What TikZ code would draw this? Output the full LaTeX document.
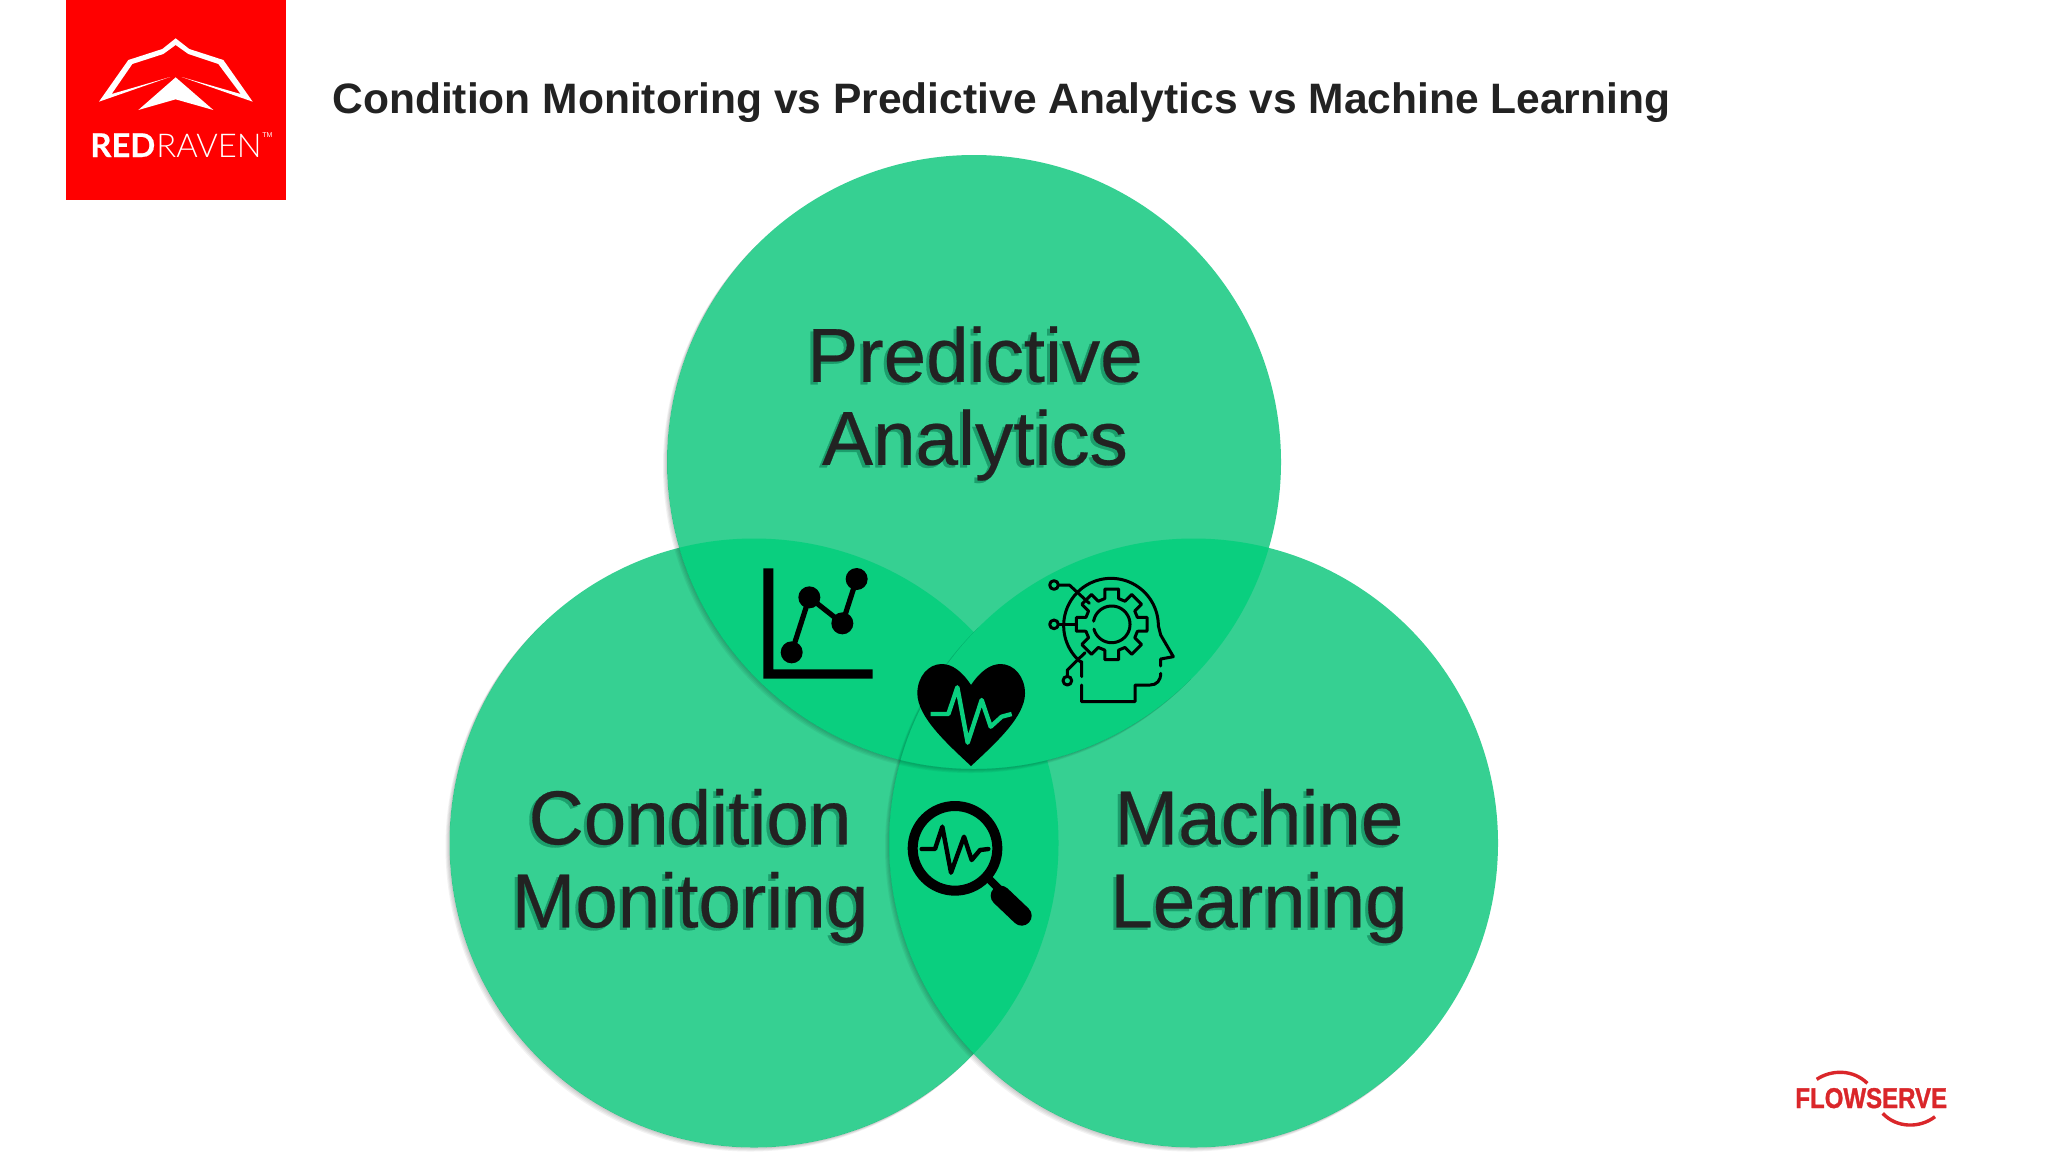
\documentclass[tikz,border=0pt]{standalone}
\usepackage{fontspec}
\setmainfont{Liberation Sans}
\newfontfamily\logofont{Lato Light}
\newfontfamily\logoboldfont[FakeBold=0.6]{Lato Bold}
\newfontfamily\flowfont[FakeBold=1.2]{Liberation Sans Bold}
\newfontfamily\vennfont[FakeBold=0.35]{Liberation Sans}
\definecolor{vennone}{RGB}{54,208,146}
\definecolor{venntwo}{RGB}{10,207,127}
\definecolor{ink}{RGB}{34,34,34}
\definecolor{inkshadow}{RGB}{28,158,108}
\definecolor{redraven}{RGB}{255,0,0}
\definecolor{flowred}{RGB}{218,38,42}
\tikzset{
  vennlabel/.style={align=center,text=ink,font=\vennfont\fontsize{38.2}{41.5}\selectfont,inner sep=0pt},
  vennshadow/.style={align=center,text=inkshadow,font=\vennfont\fontsize{38.2}{41.5}\selectfont,inner sep=0pt},
  softshadow/.style={fill=black,fill opacity=.05,even odd rule},
  zoomunits/.style={x=0.166667pt,y=-0.166667pt},
  pulse/.style={line width=2.2pt,line cap=round,line join=round},
  thinicon/.style={draw=black,line width=1.5pt,line cap=round,line join=round}
}
% soft shadow below and left of a disc, outside it only
\newcommand{\discshadow}[3]{%
  \begin{scope}
    \clip (#1-#3-20,#2-#3-20) -- (#1+#3+20,#2+#3+20) -- (#1-#3-20,#2+#3+20) -- cycle;
    \foreach \d in {1,2,3,4}{\fill[softshadow] (#1-\d,#2+\d) circle (#3) (#1,#2) circle (#3);}
  \end{scope}}
% overlap of two discs
\newcommand{\lens}[6]{%
  \begin{scope}
    \clip (#1,#2) circle (#3);
    \fill[venntwo] (#4,#5) circle (#6);
  \end{scope}}
\begin{document}
\begin{tikzpicture}[x=0.5pt,y=-0.5pt]
\useasboundingbox (0,0) rectangle (2048,1152);
\fill[white] (0,0) rectangle (2048,1152);

% red raven logo
\fill[redraven] (66,0) rectangle (286,200);
\begin{scope}[shift={(0,0)},zoomunits]
  \fill[white] (297,305) -- (385,180) -- (487,147) -- (527,115) -- (568,147) -- (670,180) -- (758,305) -- (545,231) -- (722,282) -- (655,192) -- (565,162) -- (527,135) -- (490,162) -- (397,192) -- (335,282) -- (510,231) -- cycle;
  \fill[white] (527,232) -- (640,330) -- (527,298) -- (415,330) -- cycle;
\end{scope}
\node[anchor=base west,inner sep=0pt,text=white,font=\logofont\fontsize{16.4}{17}\selectfont] (redraven) at (90,157) {{\logoboldfont RED}\hspace{.6pt}RAVEN};
\node[anchor=base west,inner sep=0pt,text=white,font=\fontsize{3.5}{4}\selectfont] (tm) at (262,137) {TM};

% title
\node[anchor=base west,inner sep=0pt,text=ink,font=\bfseries\fontsize{21.27}{24}\selectfont] (title) at (332,113) {Condition Monitoring vs Predictive Analytics vs Machine Learning};

% venn
\fill[vennone] (754,843) circle (304.5);
\fill[vennone] (1193.5,843) circle (304.5);
\fill[vennone] (974,462) circle (307);
\lens{754}{843}{304.5}{1193.5}{843}{304.5}
\lens{754}{843}{304.5}{974}{462}{307}
\lens{1193.5}{843}{304.5}{974}{462}{307}
\discshadow{754}{843}{304.5}
\discshadow{1193.5}{843}{304.5}
\discshadow{974}{462}{307}

% labels
\node[vennshadow] (pashadow) at (972,406) {Predictive\\Analytics};
\node[vennlabel] (pa) at (975,403.5) {Predictive\\Analytics};
\node[vennshadow] (cmshadow) at (687,868.5) {Condition\\Monitoring};
\node[vennlabel] (cm) at (690,866) {Condition\\Monitoring};
\node[vennshadow] (mlshadow) at (1256,868.5) {Machine\\Learning};
\node[vennlabel] (ml) at (1259,866) {Machine\\Learning};

% chart and heart icons
\begin{scope}[shift={(740,540)},zoomunits]
  \fill[black] (70,85) -- (100,85) -- (100,388) -- (398,388) -- (398,416) -- (70,416) -- cycle;
  \draw[black,line width=2.6pt,line join=round] (155,337) -- (208,172) -- (307,250) -- (350,117);
  \foreach \p in {(155,337),(208,172),(307,250),(350,117)} \fill[black] \p circle (33);
  \fill[black] (693,435) .. controls (665,392) and (635,372) .. (605,372)
    .. controls (565,372) and (532,410) .. (532,460)
    .. controls (532,530) and (620,610) .. (693,678)
    .. controls (766,610) and (855,530) .. (855,460)
    .. controls (855,410) and (822,372) .. (782,372)
    .. controls (752,372) and (722,392) .. (693,435) -- cycle;
  \draw[pulse,draw=venntwo,line cap=butt] (572,522) -- (625,522) -- (652,442) -- (683,608) -- (725,480) -- (752,560) -- (785,530) -- (815,522);
\end{scope}

% head icon
\begin{scope}[shift={(1030,560)},zoomunits]
  \draw[thinicon] (155,350) -- (155,305) plot[domain=129:360,samples=70] ({243+142*cos(\x)},{197+142*sin(\x)}) -- (392,225) -- (430,290) -- (392,297) -- (392,318);
  \draw[thinicon] (392,340) .. controls (392,362) and (380,375) .. (360,375) -- (315,375) -- (315,425) -- (155,425) -- (155,375);
  \draw[thinicon] (72,75) circle (13);
  \draw[thinicon] (72,193) circle (13);
  \draw[thinicon] (112,362) circle (13);
  \draw[thinicon] (85,75) -- (118,75) -- (178,130);
  \draw[thinicon] (85,193) -- (140,193);
  \draw[thinicon] (112,349) -- (112,330) -- (165,278);
  % gear
  \draw[thinicon] ({245+108*cos(-11)},{193+108*sin(-11)})
    \foreach \a in {0,45,...,315}{
      -- ({245+108*cos(\a-11)},{193+108*sin(\a-11)})
      -- ({245+108*cos(\a+11)},{193+108*sin(\a+11)})
      -- ({245+80*cos(\a+15)},{193+80*sin(\a+15)})
      -- ({245+80*cos(\a+30)},{193+80*sin(\a+30)})
    } -- cycle;
  \draw[thinicon] plot[domain=-170:165,samples=60] ({245+55*cos(\x)},{193+55*sin(\x)});
\end{scope}

% magnifier icon
\begin{scope}[shift={(880,780)},zoomunits]
  \draw[black,line width=5pt] (225,205) circle (127);
  \draw[pulse,draw=black] (125,207) -- (165,207) -- (187,140) -- (213,278) -- (252,170) -- (275,240) -- (300,210) -- (325,207);
  \draw[black,line width=4pt] (325,295) -- (365,335);
  \draw[black,line width=10pt,line cap=round] (362,347) -- (425,407);
\end{scope}

% flowserve logo
\node[anchor=base west,inner sep=0pt,text=flowred,font=\flowfont\fontsize{14.3}{16}\selectfont,xscale=.84] (flowserve) at (1795,1108) {FLOWSERVE};
\begin{scope}[shift={(1780,1050)},zoomunits]
  \draw[flowred,line width=1.7pt] (110,88) .. controls (155,58) and (220,58) .. (262,100);
  \draw[flowred,line width=1.7pt] (308,190) .. controls (350,235) and (420,235) .. (465,200);
\end{scope}
\end{tikzpicture}
\end{document}
